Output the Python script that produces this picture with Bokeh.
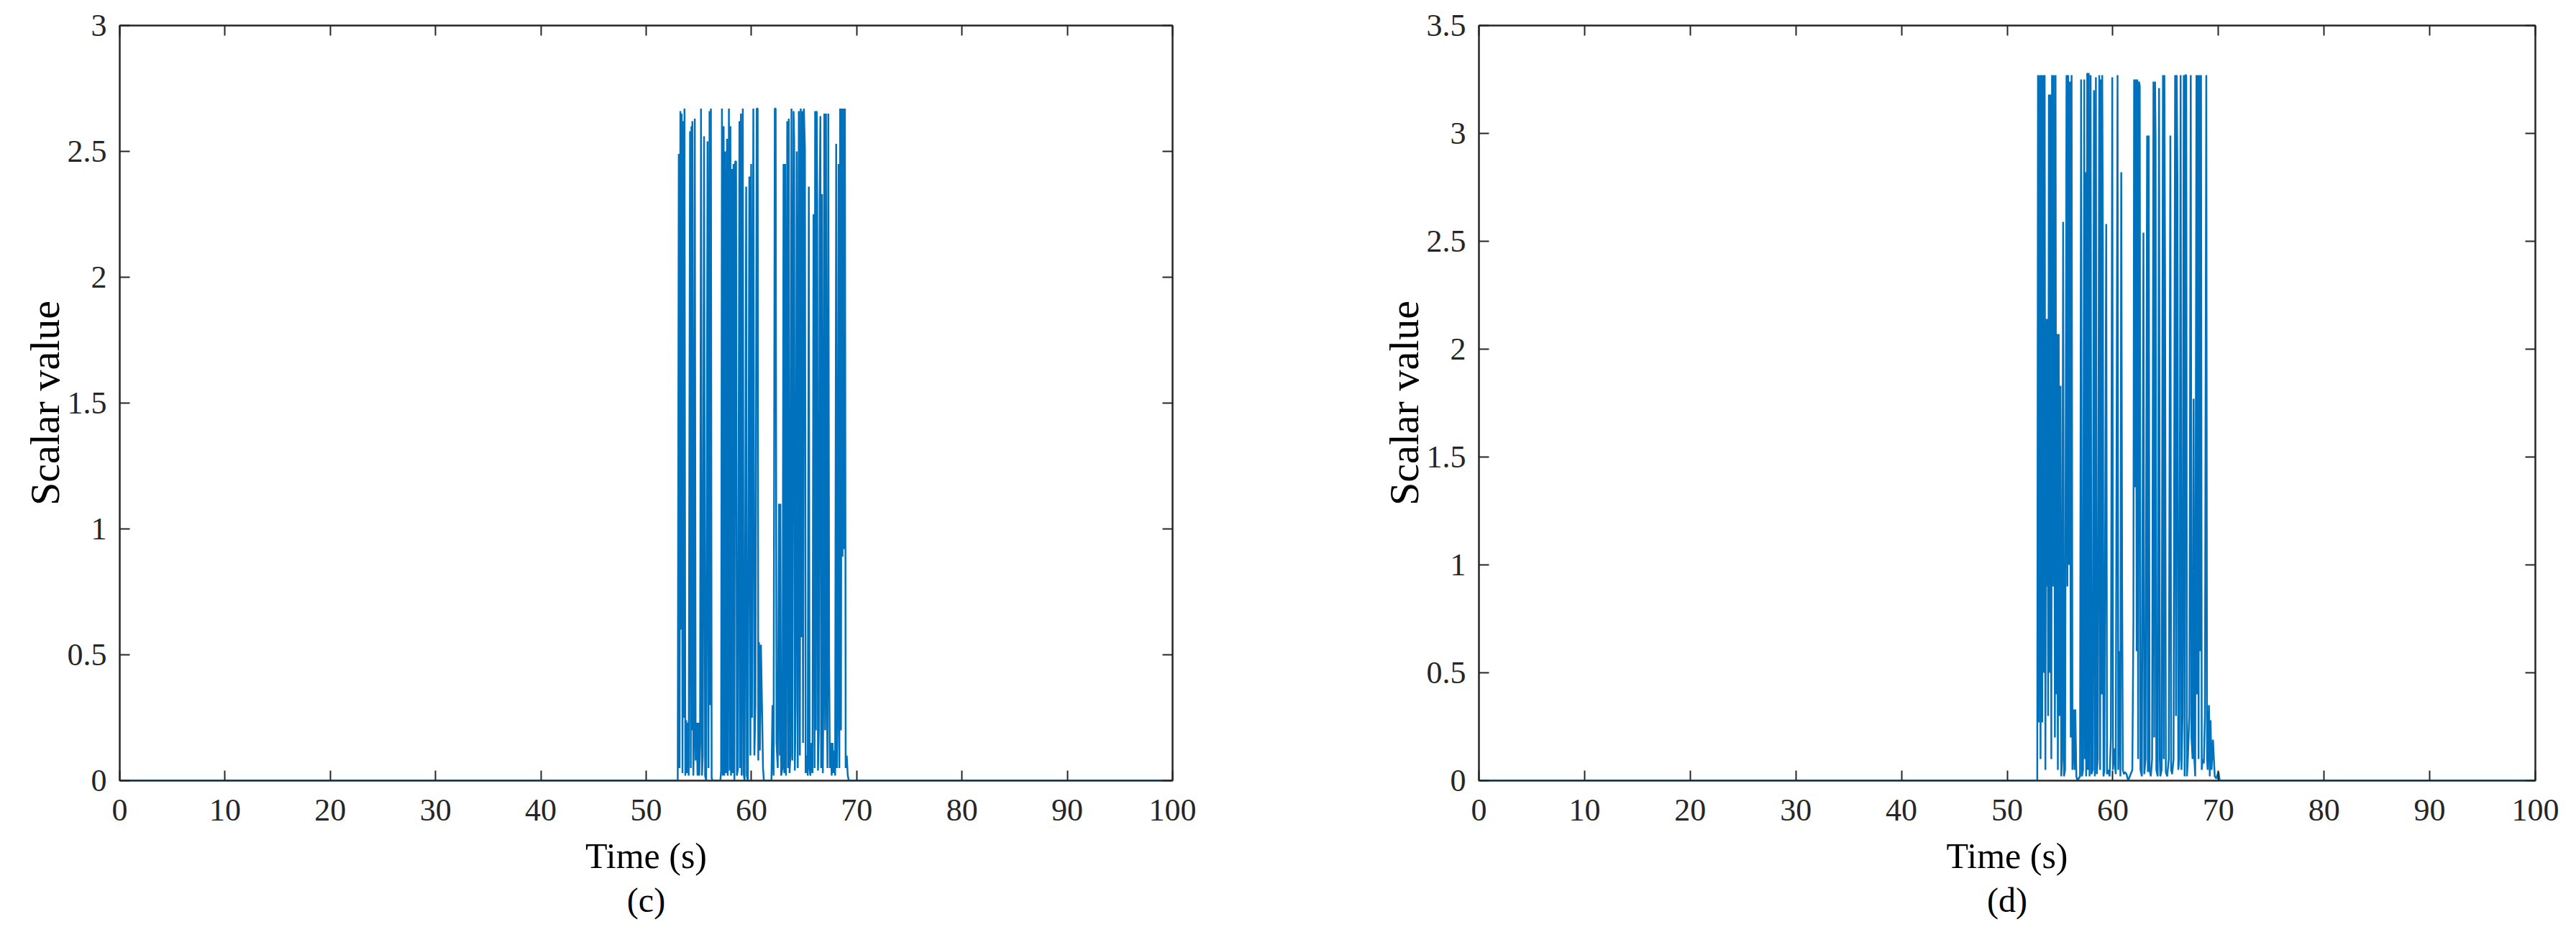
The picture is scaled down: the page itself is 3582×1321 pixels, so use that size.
from bokeh.plotting import figure
from bokeh.layouts import row
from bokeh.models import (Range1d, LinearAxis, FixedTicker, Title, ColumnDataSource,
                          CustomLabelingPolicy)
from bokeh.embed import file_html
from bokeh.resources import INLINE

# ---------------- data ----------------
x_ticks = [0, 10, 20, 30, 40, 50, 60, 70, 80, 90, 100]
c_yticks = [0, 0.5, 1, 1.5, 2, 2.5, 3]
d_yticks = [0, 0.5, 1, 1.5, 2, 2.5, 3, 3.5]

# panel (c): time (s) and scalar value
c_t = [0, 53.00, 53.10, 53.17, 53.25, 53.32, 53.37, 53.45, 53.52, 53.58,
       53.64, 53.72, 53.80, 53.88, 53.96, 54.04, 54.17, 54.24, 54.30, 54.35,
       54.39, 54.48, 54.55, 54.62, 54.70, 54.80, 54.88, 54.96, 55.04, 55.12,
       55.21, 55.30, 55.38, 55.50, 55.60, 55.70, 55.83, 55.92, 56.02, 56.10,
       56.15, 56.22, 56.30, 57.05, 57.12, 57.20, 57.28, 57.36, 57.42, 57.50,
       57.58, 57.68, 57.75, 57.86, 57.94, 58.00, 58.06, 58.13, 58.22, 58.30,
       58.38, 58.46, 58.54, 58.62, 58.72, 58.86, 58.93, 59.00, 59.07, 59.18,
       59.26, 59.35, 59.50, 59.56, 59.66, 59.80, 59.90, 59.97, 60.05, 60.18,
       60.28, 60.38, 60.50, 60.59, 60.65, 60.72, 60.80, 60.90, 61.00, 61.10,
       61.18, 61.90, 62.00, 62.10, 62.22, 62.30, 62.38, 62.50, 62.62, 62.70,
       62.75, 62.82, 62.95, 63.05, 63.12, 63.20, 63.28, 63.40, 63.48, 63.55,
       63.62, 63.70, 63.80, 63.88, 64.00, 64.06, 64.12, 64.20, 64.30, 64.40,
       64.50, 64.60, 64.68, 64.75, 64.82, 64.90, 64.98, 65.08, 65.15, 65.25,
       65.35, 65.45, 65.52, 65.60, 65.70, 65.80, 65.90, 66.00, 66.05, 66.12,
       66.20, 66.25, 66.32, 66.40, 66.48, 66.55, 66.62, 66.70, 66.78, 66.85,
       66.92, 67.00, 67.08, 67.15, 67.22, 67.30, 67.38, 67.45, 67.55, 67.62,
       67.70, 67.78, 67.86, 67.95, 68.05, 68.12, 68.20, 68.28, 68.35, 68.42,
       68.50, 68.58, 68.65, 68.72, 68.80, 68.88, 68.95, 69.05, 69.15, 69.25,
       100]
c_v = [0, 0, 2.49, 0.05, 2.66, 0.60, 2.65, 0.03, 2.62, 0.25,
       2.67, 0.02, 0.24, 0.03, 0.23, 0.02, 2.58, 0.05, 2.60, 0.20,
       2.62, 0.02, 0.20, 2.63, 0.08, 0.23, 0.02, 0.23, 0.02, 0.15,
       2.67, 0.02, 0.10, 2.56, 0.02, 0.00, 2.54, 0.05, 2.66, 0.30,
       2.67, 0.01, 0, 0, 0.04, 2.67, 0.02, 2.60, 0.02, 2.50,
       0.03, 2.55, 0.02, 2.67, 0.04, 2.60, 0.02, 2.43, 0.03, 2.45,
       0.00, 2.46, 2.46, 0.02, 0.05, 2.62, 0.05, 2.65, 0.02, 2.67,
       0.03, 0.00, 2.36, 0.02, 0.00, 2.40, 0.10, 2.45, 0.25, 2.67,
       0.10, 0.30, 2.67, 2.67, 0.08, 0.55, 0.12, 0.54, 0.30, 0.05,
       0, 0, 0.30, 0.02, 2.67, 2.67, 0.15, 0.05, 1.10, 0.10,
       1.10, 0.02, 0.05, 2.45, 0.03, 2.45, 0.02, 2.62, 0.05, 2.63,
       0.03, 0.10, 2.67, 0.08, 2.66, 2.54, 0.04, 0.30, 2.50, 0.05,
       2.66, 0.10, 2.67, 0.57, 2.66, 0.15, 2.67, 2.51, 0.03, 0.10,
       0.02, 2.36, 0.05, 0.02, 0.15, 0.03, 2.25, 0.05, 2.66, 0.20,
       2.66, 2.30, 0.04, 0.20, 2.30, 2.64, 0.05, 2.33, 0.03, 0.45,
       2.65, 0.20, 2.65, 0.42, 0.05, 2.65, 0.47, 0.05, 0.15, 0.02,
       0.15, 0.03, 0.12, 0.02, 2.53, 0.05, 0.30, 2.45, 0.05, 2.67,
       0.20, 2.67, 0.89, 2.67, 0.92, 2.67, 0.05, 0.10, 0.02, 0,
       0]

# panel (d): time (s) and scalar value
d_t = [0, 52.85, 52.92, 52.98, 53.05, 53.10, 53.16, 53.25, 53.32, 53.40,
       53.48, 53.55, 53.62, 53.70, 53.76, 53.82, 53.88, 53.95, 54.02, 54.10,
       54.18, 54.25, 54.32, 54.40, 54.45, 54.52, 54.58, 54.65, 54.72, 54.80,
       54.88, 54.95, 55.05, 55.12, 55.20, 55.30, 55.38, 55.48, 55.62, 55.70,
       55.78, 55.86, 55.94, 56.02, 56.10, 56.18, 56.30, 56.38, 56.45, 56.55,
       56.65, 56.90, 57.00, 57.08, 57.18, 57.30, 57.36, 57.42, 57.48, 57.58,
       57.65, 57.72, 57.80, 57.90, 57.98, 58.10, 58.22, 58.30, 58.40, 58.48,
       58.58, 58.72, 58.80, 58.88, 58.95, 59.00, 59.06, 59.12, 59.20, 59.38,
       59.45, 59.55, 59.70, 59.82, 59.95, 60.02, 60.10, 60.28, 60.45, 60.52,
       60.62, 60.72, 60.80, 60.88, 60.95, 61.05, 61.15, 61.30, 61.45, 61.85,
       61.95, 62.02, 62.10, 62.18, 62.26, 62.32, 62.40, 62.48, 62.55, 62.62,
       62.75, 62.90, 62.98, 63.10, 63.25, 63.32, 63.40, 63.48, 63.60, 63.72,
       63.85, 63.92, 64.00, 64.05, 64.12, 64.25, 64.38, 64.45, 64.50, 64.62,
       64.75, 64.82, 64.88, 64.95, 65.02, 65.15, 65.30, 65.45, 65.52, 65.62,
       65.75, 65.90, 65.98, 66.05, 66.12, 66.20, 66.30, 66.42, 66.50, 66.60,
       66.72, 66.80, 66.88, 66.95, 67.02, 67.10, 67.25, 67.38, 67.45, 67.55,
       67.65, 67.72, 67.80, 67.92, 67.98, 68.05, 68.12, 68.20, 68.28, 68.35,
       68.42, 68.50, 68.62, 68.72, 68.85, 68.92, 68.98, 69.10, 69.18, 69.25,
       69.35, 69.48, 69.55, 69.65, 69.80, 70.00, 70.12, 100]
d_v = [0, 0, 3.27, 0.27, 3.19, 3.27, 0.10, 3.27, 0.27, 3.27,
       0.50, 3.27, 0.05, 2.14, 0.90, 2.14, 0.30, 3.18, 0.50, 3.18,
       0.10, 3.27, 0.90, 3.27, 2.07, 0.20, 3.27, 0.40, 2.07, 0.05,
       2.07, 0.30, 1.83, 0.02, 0.10, 2.59, 0.02, 0.05, 3.27, 0.90,
       3.27, 1.00, 3.24, 0.20, 3.27, 0.05, 0.33, 0.05, 0.33, 0.02,
       0, 0.02, 3.25, 0.02, 0.05, 3.25, 0.10, 2.82, 0.02, 3.28,
       0.05, 3.28, 0.02, 3.27, 0.03, 0.05, 3.20, 0.02, 3.26, 0.03,
       0.10, 3.27, 0.05, 3.25, 0.40, 3.27, 2.47, 0.02, 0.05, 2.58,
       0.03, 0.05, 0.02, 0.20, 3.26, 0.05, 0.15, 0.03, 3.27, 0.05,
       0.60, 0.02, 2.82, 0.93, 0.05, 0.03, 0.04, 0.03, 0, 0.05,
       0.73, 3.25, 1.36, 3.25, 0.60, 3.25, 0.10, 3.24, 3.22, 0.05,
       0.02, 2.54, 0.03, 0.10, 2.99, 0.04, 2.99, 0.05, 0.02, 0.10,
       3.24, 0.20, 3.24, 2.97, 0.05, 0.02, 3.21, 0.10, 0.02, 0.05,
       3.27, 0.10, 3.27, 2.27, 0.04, 0.02, 0.10, 2.99, 0.05, 0.03,
       0.10, 3.27, 0.30, 3.27, 2.76, 0.05, 0.10, 3.27, 0.05, 0.30,
       3.27, 0.02, 3.27, 3.27, 0.02, 0.10, 0.30, 3.27, 0.20, 0.10,
       1.77, 0.10, 0.02, 3.27, 0.40, 3.27, 0.10, 3.27, 0.60, 3.27,
       0.05, 0.10, 0.08, 0.30, 3.27, 0.10, 0.05, 0.35, 0.02, 0.28,
       0.05, 0.19, 0.12, 0.02, 0.01, 0.04, 0, 0]

# ---------------- styling ----------------
FONT = "Liberation Serif"
INK = "#262626"
BLUE = "#0072BD"


def label_map(ticks):
    return {t: ("%g" % t) for t in ticks}


def style_axis(ax, show_labels=True):
    ax.major_tick_in = 14
    ax.major_tick_out = 0
    ax.minor_tick_in = 0
    ax.minor_tick_out = 0
    ax.axis_line_color = INK
    ax.axis_line_width = 2
    ax.major_tick_line_color = INK
    ax.major_tick_line_width = 2
    ax.major_label_text_font = FONT
    ax.major_label_text_color = INK
    ax.major_label_text_font_size = "44px"
    if not show_labels:
        # tick marks only (MATLAB box style): no labels are drawn on this axis
        ax.major_label_policy = CustomLabelingPolicy(code="return []")
        ax.major_label_text_font_size = "0px"
        ax.major_label_standoff = 0


def make_panel(t, v, ymax, yticks, caption, width, height, bl, br):
    top_b = 35
    p = figure(width=width, height=height,
               x_range=Range1d(0, 100), y_range=Range1d(0, ymax),
               output_backend="svg", toolbar_location=None,
               min_border_left=bl, min_border_right=br,
               min_border_top=top_b, min_border_bottom=height - top_b - 1050)
    p.xgrid.visible = False
    p.ygrid.visible = False
    p.outline_line_color = INK
    p.outline_line_width = 2
    p.background_fill_color = "white"
    p.border_fill_color = "white"

    src = ColumnDataSource(dict(t=t, v=v))
    p.line("t", "v", source=src, line_color=BLUE, line_width=2.5)

    p.xaxis.ticker = FixedTicker(ticks=x_ticks)
    p.xaxis.major_label_overrides = label_map(x_ticks)
    p.yaxis.ticker = FixedTicker(ticks=yticks)
    p.yaxis.major_label_overrides = label_map(yticks)
    for ax in p.xaxis + p.yaxis:
        style_axis(ax)
    p.xaxis.major_label_standoff = 26
    p.yaxis.major_label_standoff = 18

    p.xaxis.axis_label = "Time (s)"
    p.yaxis.axis_label = "Scalar value"
    for ax in p.xaxis + p.yaxis:
        ax.axis_label_text_font = FONT
        ax.axis_label_text_font_style = "normal"
        ax.axis_label_text_color = "black"
    p.xaxis.axis_label_text_font_size = "50px"
    p.xaxis.axis_label_standoff = 18
    p.yaxis.axis_label_text_font_size = "58px"
    p.yaxis.axis_label_standoff = -4

    top = LinearAxis(ticker=FixedTicker(ticks=x_ticks))
    style_axis(top, show_labels=False)
    p.add_layout(top, "above")
    right = LinearAxis(ticker=FixedTicker(ticks=yticks))
    style_axis(right, show_labels=False)
    p.add_layout(right, "right")

    cap = Title(text=caption, align="center", text_font=FONT,
                text_font_size="48px", text_font_style="normal",
                text_color="black", standoff=4)
    p.add_layout(cap, "below")
    return p


H = 1305
p1 = make_panel(c_t, c_v, 3, c_yticks, "(c)", 1888, H, 166, 258)
p2 = make_panel(d_t, d_v, 3.5, d_yticks, "(d)", 1688, H, 168, 51)

layout = row(p1, p2, spacing=0)
open("out.html", "w").write(file_html(layout, INLINE))
